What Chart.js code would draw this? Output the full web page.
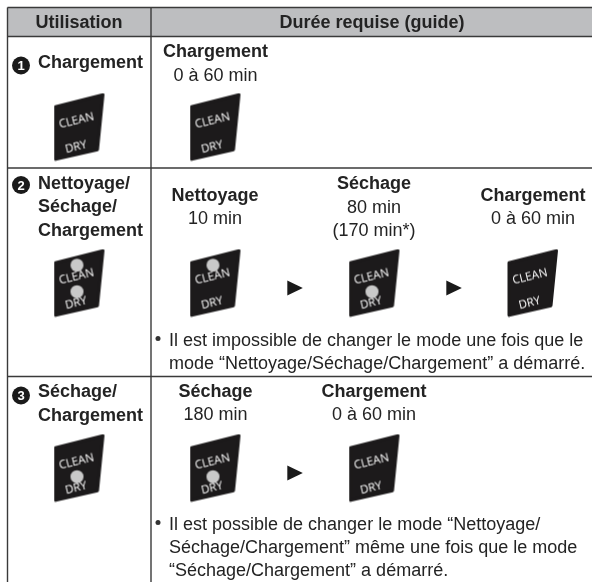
<!DOCTYPE html>
<html lang="fr">
<head>
<meta charset="utf-8">
<title>Durée requise</title>
<script src="https://cdn.jsdelivr.net/npm/chart.js@4"></script>
<style>
html, body { margin: 0; padding: 0; background: #fff; }
canvas { display: block; }
</style>
</head>
<body>
<canvas id="myChart" width="593" height="582"></canvas>
<script>
// contenu du tableau
var headers = ['Utilisation', 'Durée requise (guide)'];
var rowNumbers = ['1', '2', '3'];
var modes = [
    ['Chargement'],
    ['Nettoyage/', 'Séchage/', 'Chargement'],
    ['Séchage/', 'Chargement']
];
var stepNames = [
    ['Chargement'],
    ['Nettoyage', 'Séchage', 'Chargement'],
    ['Séchage', 'Chargement']
];
var stepTimes = [
    [['0 à 60 min']],
    [['10 min'], ['80 min', '(170 min*)'], ['0 à 60 min']],
    [['180 min'], ['0 à 60 min']]
];
// voyants allumés: '' / 'clean' / 'dry' / 'both'
var modeLamps = ['', 'both', 'dry'];
var stepLamps = [
    [''],
    ['clean', 'dry', ''],
    ['dry', '']
];
var notes = [
    [],
    ['Il est impossible de changer le mode une fois que le',
     'mode “Nettoyage/Séchage/Chargement” a démarré.'],
    ['Il est possible de changer le mode “Nettoyage/',
     'Séchage/Chargement” même une fois que le mode',
     '“Séchage/Chargement” a démarré.']
];

// mise en page (en pixels de la page)
var W = 593, H = 582;
var leftX = 7.5, midX = 151, rightX = 592, topY = 7.5, headY = 36.5;
var rowLines = [168, 376.5];
var headCenters = [79, 372];
var modeTextX = 38, numberX = 21;
var modeIconX = 79.5;
var modeBaselines = [[68], [188.5, 212, 236], [396.5, 420.5]];
var numberY = [65.5, 185, 395.5];
var stepColumns = [[215.5], [215, 374, 533], [215.5, 374]];
var stepTitleY = [[57], [200.5, 189, 200.5], [396.5, 396.5]];
var iconCenterY = [127, 283, 468];
var iconCols = [[215.5], [215.5, 374.5, 533], [215.5, 374.5]];
var arrowCols = [[], [295, 454], [295]];
var arrowY = [0, 288, 473];
var noteBaselines = [[], [345.5, 369], [529.5, 552.5, 576]];
var noteTextX = 169, bulletX = 158;

var INK = '#232323';
var BOLD = 'bold 18px "Liberation Sans", Arial, sans-serif';
var REGULAR = '18px "Liberation Sans", Arial, sans-serif';

function makeIcon(lamp) {
    var c = document.createElement('canvas');
    c.width = 52; c.height = 69;
    var g = c.getContext('2d');
    g.translate(0.5, 0.7);
    g.fillStyle = '#1c1a1b';
    g.strokeStyle = '#1c1a1b';
    g.lineJoin = 'round';
    g.lineWidth = 3;
    g.beginPath();
    g.moveTo(1.5, 13.5);
    g.lineTo(49, 1.5);
    g.lineTo(43.5, 56.5);
    g.lineTo(1.5, 66);
    g.closePath();
    g.fill();
    g.stroke();
    g.fillStyle = '#c9c9c9';
    if (lamp === 'clean' || lamp === 'both') {
        g.beginPath(); g.arc(23, 16, 6.5, 0, Math.PI * 2); g.fill();
    }
    if (lamp === 'dry' || lamp === 'both') {
        g.beginPath(); g.arc(23, 42.5, 6.5, 0, Math.PI * 2); g.fill();
    }
    g.fillStyle = '#fff';
    g.font = '11.5px "Open Sans", sans-serif';
    g.textAlign = 'center';
    g.textBaseline = 'middle';
    g.save(); g.translate(22.5, 27.5); g.rotate(-0.24); g.fillText('CLEAN', 0, 0); g.restore();
    g.save(); g.translate(22, 54); g.rotate(-0.24); g.fillText('DRY', 0, 0); g.restore();
    return c;
}

function makeArrow() {
    var c = document.createElement('canvas');
    c.width = 16; c.height = 16;
    var g = c.getContext('2d');
    g.fillStyle = '#1a1a1a';
    g.beginPath();
    g.moveTo(0.3, 0.5);
    g.lineTo(15.8, 8);
    g.lineTo(0.3, 15.5);
    g.closePath();
    g.fill();
    return c;
}

// construction des points et des textes a partir des listes
var iconCache = {};
function iconFor(lamp) {
    if (!iconCache[lamp]) iconCache[lamp] = makeIcon(lamp);
    return iconCache[lamp];
}

var iconPoints = [], iconStyles = [], arrowPoints = [], numberPoints = [], bulletPoints = [], texts = [];

function addText(str, x, y, font, align, color) {
    texts.push({ str: str, x: x, y: y, font: font, align: align, color: color || INK });
}

headers.forEach(function (h, i) {
    addText(h, headCenters[i], 27.5, BOLD, 'center');
});

modes.forEach(function (lines, r) {
    numberPoints.push({ x: numberX, y: numberY[r] });
    addText(rowNumbers[r], numberX, numberY[r] + 4.5, 'bold 13px "Liberation Sans", Arial, sans-serif', 'center', '#fff');
    lines.forEach(function (line, l) {
        addText(line, modeTextX, modeBaselines[r][l], BOLD, 'left');
    });
    iconPoints.push({ x: modeIconX, y: iconCenterY[r] });
    iconStyles.push(iconFor(modeLamps[r]));

    stepNames[r].forEach(function (name, s) {
        var cx = stepColumns[r][s], y = stepTitleY[r][s];
        addText(name, cx, y, BOLD, 'center');
        stepTimes[r][s].forEach(function (t, k) {
            addText(t, cx, y + 23.5 * (k + 1), REGULAR, 'center');
        });
        iconPoints.push({ x: iconCols[r][s], y: iconCenterY[r] });
        iconStyles.push(iconFor(stepLamps[r][s]));
    });

    arrowCols[r].forEach(function (x) {
        arrowPoints.push({ x: x, y: arrowY[r] });
    });

    notes[r].forEach(function (line, n) {
        if (n === 0) bulletPoints.push({ x: bulletX, y: noteBaselines[r][0] - 7 });
        addText(line, noteTextX, noteBaselines[r][n], REGULAR, 'left');
    });
});

// traits du tableau
var ruleSegments = [
    [{ x: leftX, y: topY }, { x: rightX, y: topY }],
    [{ x: leftX, y: headY }, { x: rightX, y: headY }],
    [{ x: leftX, y: topY }, { x: leftX, y: H }],
    [{ x: midX, y: topY }, { x: midX, y: H }]
];
rowLines.forEach(function (y) {
    ruleSegments.push([{ x: leftX, y: y }, { x: rightX, y: y }]);
});

var ruleDatasets = ruleSegments.map(function (seg) {
    return {
        data: seg,
        showLine: true,
        borderColor: '#3a3a3a',
        borderWidth: 1.4,
        pointRadius: 0
    };
});

var tablePlugin = {
    id: 'tablePlugin',
    beforeDatasetsDraw: function (chart) {
        var sx = chart.scales.x, sy = chart.scales.y, ctx = chart.ctx;
        ctx.save();
        ctx.fillStyle = '#bdbec0';
        ctx.fillRect(sx.getPixelForValue(leftX), sy.getPixelForValue(topY),
            sx.getPixelForValue(rightX) - sx.getPixelForValue(leftX),
            sy.getPixelForValue(headY) - sy.getPixelForValue(topY));
        ctx.restore();
    },
    afterDatasetsDraw: function (chart) {
        var sx = chart.scales.x, sy = chart.scales.y, ctx = chart.ctx;
        ctx.save();
        ctx.textBaseline = 'alphabetic';
        texts.forEach(function (t) {
            ctx.font = t.font;
            ctx.textAlign = t.align;
            ctx.fillStyle = t.color;
            ctx.fillText(t.str, sx.getPixelForValue(t.x), sy.getPixelForValue(t.y));
        });
        ctx.restore();
    }
};

var ctx = document.getElementById('myChart').getContext('2d');
var myChart = new Chart(ctx, {
    type: 'scatter',
    data: {
        datasets: ruleDatasets.concat([
            {
                data: iconPoints,
                pointStyle: iconStyles,
                pointRadius: 30
            },
            {
                data: arrowPoints,
                pointStyle: makeArrow(),
                pointRadius: 8
            },
            {
                data: numberPoints,
                pointStyle: 'circle',
                pointRadius: 9,
                backgroundColor: '#1a1a1a',
                borderWidth: 0
            },
            {
                data: bulletPoints,
                pointStyle: 'circle',
                pointRadius: 2.5,
                backgroundColor: '#333',
                borderWidth: 0
            }
        ])
    },
    options: {
        responsive: false,
        animation: false,
        layout: { padding: 0, autoPadding: false },
        plugins: {
            legend: { display: false },
            tooltip: { enabled: false }
        },
        scales: {
            x: { type: 'linear', min: 0, max: W, display: false },
            y: { type: 'linear', min: 0, max: H, reverse: true, display: false }
        }
    },
    plugins: [tablePlugin]
});
</script>
</body>
</html>
